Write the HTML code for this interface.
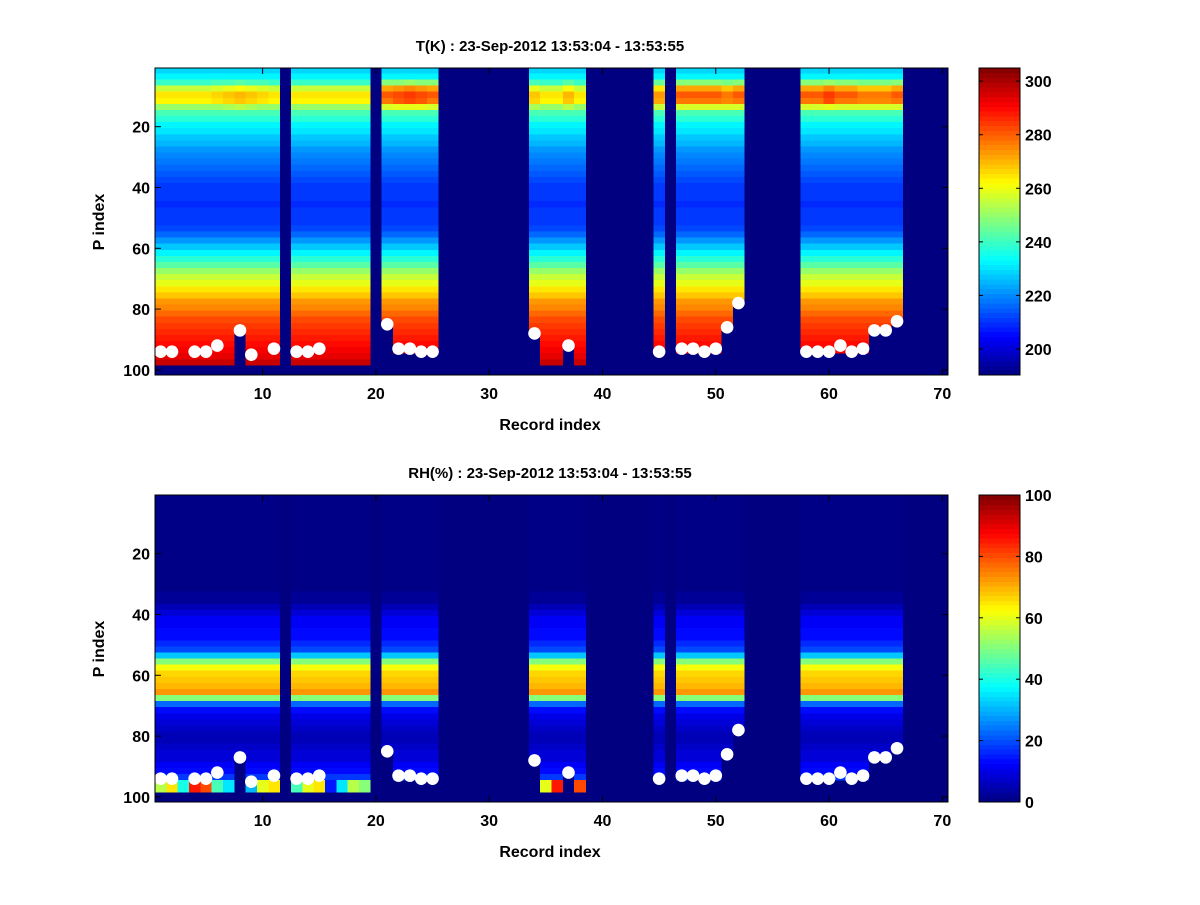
<!DOCTYPE html>
<html><head><meta charset="utf-8">
<style>
html,body{margin:0;padding:0;background:#fff;}
svg text{font-family:"Liberation Sans",Arial,sans-serif;font-weight:bold;fill:#000;}
</style></head>
<body>
<svg id="fig" width="1200" height="900" viewBox="0 0 1200 900" xmlns="http://www.w3.org/2000/svg"></svg>
<script>
// ---- data ----
const records = Array.from({length:70},(_,i)=>i+1);
const xTicks = [10,20,30,40,50,60,70];
const yTicks = [20,40,60,80,100];
const tCbTicks = [200,220,240,260,280,300];
const rhCbTicks = [0,20,40,60,80,100];
// last valid P level per record (0 = no data)
const bottomP = [98,98,98,98,98,98,98,87,98,98,98,0,98,98,98,98,98,98,98,0,85,94,94,94,94,0,0,0,0,0,0,0,0,88,98,98,92,98,0,0,0,0,0,0,94,0,94,94,94,94,86,78,0,0,0,0,0,94,94,94,94,94,94,87,87,84,0,0,0,0];
// surface marker P level (0 = none)
const dotP = [94,94,0,94,94,92,0,87,95,0,93,0,94,94,93,0,0,0,0,0,85,93,93,94,94,0,0,0,0,0,0,0,0,88,0,0,92,0,0,0,0,0,0,0,94,0,93,93,94,93,86,78,0,0,0,0,0,94,94,94,92,94,93,87,87,84,0,0,0,0];
// mean temperature profile (K), one value per 2 P levels
const tProfile = [228,232,240,255,264,262,250,242,237,233,230,227,225,222,220,218,216,214,212,211,210,210,209,210,210,211,213,216,221,227,233,238,244,250,255,260,265,269,273,276,279,282,284,286,288,290,292,294,296,296];
// per-record adjustment of the upper warm band (K)
const tBandAdj = [0,0,0,0,0,2,4,6,4,2,0,0,0,0,0,0,0,0,0,0,16,18,20,18,16,0,0,0,0,0,0,0,0,4,0,0,6,0,0,0,0,0,0,0,10,0,16,16,16,16,14,16,0,0,0,0,0,16,16,20,16,16,14,14,14,16,0,0,0,0];
// mean RH profile (%), one value per 2 P levels
const rhProfile = [0,0,0,0,0,0,0,0,0,0,0,0,0,0,0,1,2,3,5,8,11,12,13,14,16,20,32,50,62,66,68,70,73,50,22,14,10,8,7,6,6,7,8,9,11,13,18,22,30,30];
// near-surface RH per record (null = profile)
const rhSfc = [55,65,40,85,80,45,35,null,30,60,65,null,45,60,65,15,35,55,50,null,null,null,null,null,null,null,null,null,null,null,null,null,null,null,60,85,null,80,null,null,null,null,null,null,null,null,null,null,null,null,null,null,null,null,null,null,null,null,null,null,null,null,null,null,null,null,null,null,null,null];

// ---- helpers ----
const NS="http://www.w3.org/2000/svg";
const svg=document.getElementById('fig');
function mk(tag,attrs,parent){const e=document.createElementNS(NS,tag);for(const k in attrs)e.setAttribute(k,attrs[k]);(parent||svg).appendChild(e);return e;}
function jet(f){
  f=Math.max(0,Math.min(1,f));
  f=(Math.min(63,Math.floor(f*64))+0.5)/64;
  const c=v=>Math.round(255*Math.max(0,Math.min(1,v)));
  return `rgb(${c(1.5-Math.abs(4*f-3))},${c(1.5-Math.abs(4*f-2))},${c(1.5-Math.abs(4*f-1))})`;
}
const X0=155, X1=948, XW=(X1-X0)/70;
const xs=r=>X0+(r-0.5)*XW;
function makeYs(off){return p=>126.7+off+(p-20)*3.04;}

function panel(off,title,valFn,vmin,vmax,cbTicks,name){
  const ys=makeYs(off);
  const top=68+off, bot=375+off;
  const g=mk('g',{});
  
  
  const bg=mk('rect',{x:X0,y:top,width:X1-X0,height:bot-top,fill:'rgb(0,0,128)'},g);
  
  
  const cells=mk('g',{'shape-rendering':'crispEdges'},g);
  
  
  records.forEach((r,i)=>{
    const b=bottomP[i]; if(!b) return;
    for(let p=1;p<=b;p++){
      const v=valFn(i,p);
      const y0=Math.max(top,ys(p-0.5)), y1=ys(p+0.5);
      const c=mk('rect',{x:xs(r-0.5).toFixed(2),y:y0.toFixed(2),width:(XW+0.3).toFixed(2),height:(y1-y0+0.3).toFixed(2),fill:jet((v-vmin)/(vmax-vmin))},cells);
      
      
    }
  });
  records.forEach((r,i)=>{
    if(!dotP[i]) return;
    const d=mk('circle',{cx:xs(r),cy:ys(dotP[i]),r:6.3,fill:'#fff'},g);
    
    
  });
  const fr=mk('rect',{x:X0,y:top,width:X1-X0,height:bot-top,fill:'none',stroke:'#000','stroke-width':1},g);
  
  
  xTicks.forEach(t=>{
    const x=xs(t);
    mk('line',{x1:x,x2:x,y1:bot,y2:bot-6,stroke:'#000'},g);
    mk('line',{x1:x,x2:x,y1:top,y2:top+6,stroke:'#000'},g);
    const tx=mk('text',{x:x,y:bot+24,'font-size':16,'text-anchor':'middle'},g);
    tx.textContent=t;
    
    
  });
  yTicks.forEach(t=>{
    const y=ys(t);
    mk('line',{x1:X0,x2:X0+6,y1:y,y2:y,stroke:'#000'},g);
    mk('line',{x1:X1,x2:X1-6,y1:y,y2:y,stroke:'#000'},g);
    const tx=mk('text',{x:X0-5,y:y+6,'font-size':16,'text-anchor':'end'},g);
    tx.textContent=t;
    
    
  });
  const tt=mk('text',{x:550,y:51+off,'font-size':15,'text-anchor':'middle'},g);
  tt.textContent=title;
  
  
  const xl=mk('text',{x:550,y:430+off,'font-size':16,'text-anchor':'middle'},g);
  xl.textContent='Record index';
  
  
  const yl=mk('text',{x:0,y:0,'font-size':16,'text-anchor':'middle',transform:`translate(104,${222+off}) rotate(-90)`},g);
  yl.textContent='P index';
  
  
  // colorbar
  const CX0=979, CX1=1020;
  const cb=mk('g',{'shape-rendering':'crispEdges'},g);
  
  
  const h=(bot-top)/64;
  for(let k=0;k<64;k++){
    mk('rect',{x:CX0,y:(bot-(k+1)*h).toFixed(2),width:CX1-CX0,height:(h+0.4).toFixed(2),fill:jet((k+0.5)/64)},cb);
  }
  mk('rect',{x:CX0,y:top,width:CX1-CX0,height:bot-top,fill:'none',stroke:'#000'},g);
  const cy=v=>bot-(v-vmin)/(vmax-vmin)*(bot-top);
  cbTicks.forEach(t=>{
    const y=cy(t);
    mk('line',{x1:CX0,x2:CX0+4,y1:y,y2:y,stroke:'#000'},g);
    mk('line',{x1:CX1,x2:CX1-4,y1:y,y2:y,stroke:'#000'},g);
    const tx=mk('text',{x:CX1+5,y:y+6,'font-size':16},g);
    tx.textContent=t;
    
    
  });
}

panel(0,'T(K) : 23-Sep-2012 13:53:04 - 13:53:55',(i,p)=>{
  const k=Math.floor((p-1)/2);
  let v=tProfile[Math.min(k,tProfile.length-1)];
  if(p>=7&&p<=12) v+=tBandAdj[i];
  else if(p>=5&&p<=14) v+=tBandAdj[i]*0.5;
  return v;
},190.3,304.9,tCbTicks,'temperature');

panel(427,'RH(%) : 23-Sep-2012 13:53:04 - 13:53:55',(i,p)=>{
  const k=Math.floor((p-1)/2);
  let v=rhProfile[Math.min(k,rhProfile.length-1)];
  if(p>=95&&rhSfc[i]!==null) v=rhSfc[i];
  return v;
},0,100,rhCbTicks,'humidity');
</script>
</body></html>
